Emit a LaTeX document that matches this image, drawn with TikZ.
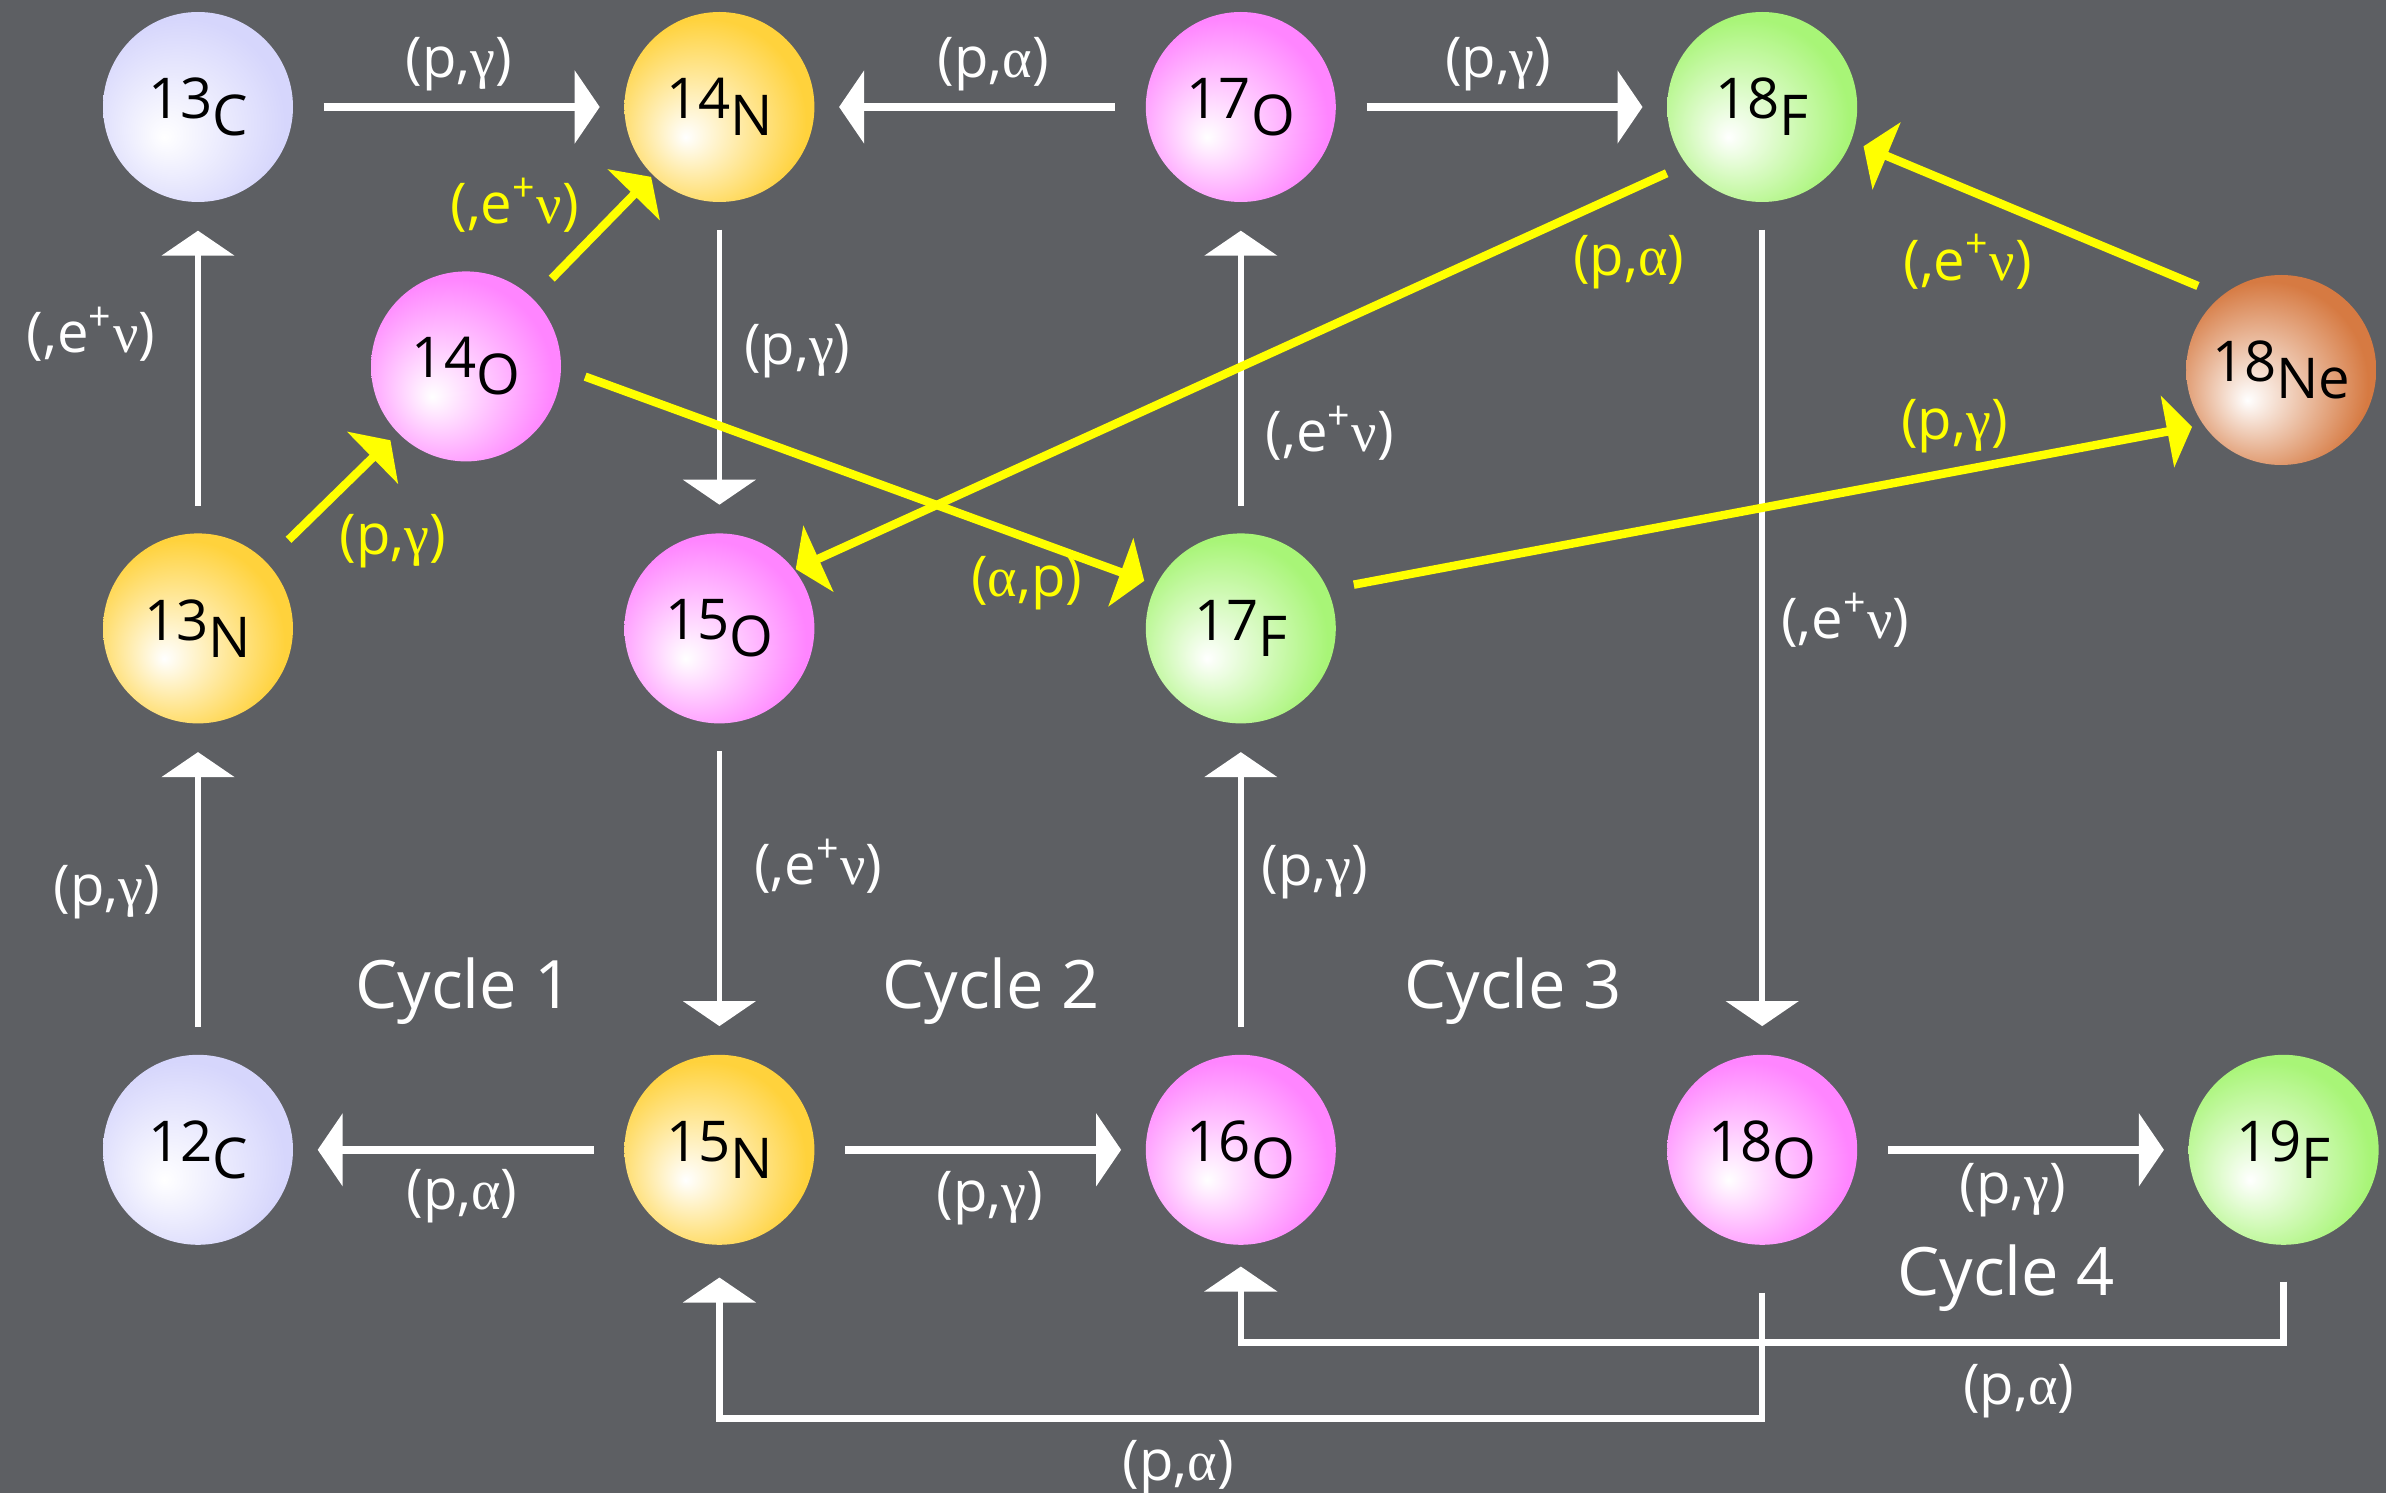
\documentclass[tikz,border=0pt]{standalone}
\usepackage{fontspec}
\setmainfont{Open Sans}
\newfontfamily\grk{Liberation Serif}
\usepackage{xcolor}
\usetikzlibrary{arrows.meta,positioning}

\definecolor{bgray}{HTML}{5D5F63}
\definecolor{cC}{HTML}{D6D6FC}
\definecolor{cN}{HTML}{FFD23C}
\definecolor{cO}{HTML}{FF85FF}
\definecolor{cF}{HTML}{A8F577}
\definecolor{cNe}{HTML}{D67A42}
\definecolor{rxn}{HTML}{FFFF00}

\pgfdeclareradialshading{ballC}{\pgfpoint{-9bp}{-8bp}}{color(0bp)=(white); color(27bp)=(cC); color(50bp)=(cC)}
\pgfdeclareradialshading{ballN}{\pgfpoint{-9bp}{-8bp}}{color(0bp)=(white); color(27bp)=(cN); color(50bp)=(cN)}
\pgfdeclareradialshading{ballO}{\pgfpoint{-9bp}{-8bp}}{color(0bp)=(white); color(27bp)=(cO); color(50bp)=(cO)}
\pgfdeclareradialshading{ballF}{\pgfpoint{-9bp}{-8bp}}{color(0bp)=(white); color(27bp)=(cF); color(50bp)=(cF)}
\pgfdeclareradialshading{ballNe}{\pgfpoint{-9bp}{-8bp}}{color(0bp)=(white); color(27bp)=(cNe); color(50bp)=(cNe)}

\begin{document}
\begin{tikzpicture}[node distance=3.3cm,
    ball/.style={circle, minimum size=1.9cm, inner sep=0pt, shade, font=\fontsize{16}{19}\selectfont},
    bflow/.style={draw=white, line width=1.8pt, -{Triangle[width=7.2mm,length=2.5mm]}},
    flow/.style={bflow, line width=2.2pt, shorten <=3mm, shorten >=2.4mm},
    vflow/.style={bflow, line width=1.6pt, shorten <=2.7mm, shorten >=2.8mm},
    yflow/.style={draw=rxn, line width=2.4pt, -{Triangle[width=7.2mm,length=2.5mm]}},
    lbl/.style={text=white, inner sep=1pt, font=\fontsize{16}{19}\selectfont},
    ylbl/.style={lbl, text=rxn},
    cyc/.style={text=white, font=\fontsize{19}{23}\selectfont}]

    \useasboundingbox (0,0) rectangle (23.86,-14.93);
    \fill[bgray] (0,0) rectangle (23.86,-14.93);

    % Row 1
    \node[ball, shading=ballC] (C13) at (1.98,-1.07) {13\raisebox{-.3em}{C}};
    \node[ball, shading=ballN, right=of C13] (N14) {14\raisebox{-.3em}{N}};
    \node[ball, shading=ballO, right=of N14] (O17) {17\raisebox{-.3em}{O}};
    \node[ball, shading=ballF, right=of O17] (F18) {18\raisebox{-.3em}{F}};

    % Row 2
    \node[ball, shading=ballN, below=of C13] (N13) {13\raisebox{-.3em}{N}};
    \node[ball, shading=ballO, right=of N13] (O15) {15\raisebox{-.3em}{O}};
    \node[ball, shading=ballF, right=of O15] (F17) {17\raisebox{-.3em}{F}};
    \node[ball, shading=ballO] (O14) at ([shift={(2.68,2.62)}]N13) {14\raisebox{-.3em}{O}};
    \node[ball, shading=ballNe] (Ne18) at ([shift={(5.19,-2.63)}]F18) {18\raisebox{-.3em}{Ne}};

    % Row 3
    \node[ball, shading=ballC, below=of N13] (C12) {12\raisebox{-.3em}{C}};
    \node[ball, shading=ballN, right=of C12] (N15) {15\raisebox{-.3em}{N}};
    \node[ball, shading=ballO, right=of N15] (O16) {16\raisebox{-.3em}{O}};
    \node[ball, shading=ballO, right=of O16] (O18) {18\raisebox{-.3em}{O}};
    \node[ball, shading=ballF, right=of O18] (F19) {19\raisebox{-.3em}{F}};

    % Cycle labels
    \node[cyc] (cyc1) at (4.64,-9.91) {Cycle 1};
    \node[cyc] (cyc2) at (9.91,-9.91) {Cycle 2};
    \node[cyc] (cyc3) at (15.13,-9.91) {Cycle 3};
    \node[cyc] (cyc4) at (20.06,-12.78) {Cycle 4};

    % Horizontal reactions
    \draw[flow] (C13) -- node[lbl, yshift=.43cm] (l1) {(p,{\grk γ})} (N14);
    \draw[flow] (O17) -- node[lbl, pos=.46, yshift=.43cm] (l2) {(p,{\grk α})} (N14);
    \draw[flow] (O17) -- node[lbl, pos=.49, yshift=.43cm] (l3) {(p,{\grk γ})} (F18);
    \draw[flow] (N15) -- node[lbl, pos=.49, yshift=-.46cm] (l11) {(p,{\grk α})} (C12);
    \draw[flow] (N15) -- node[lbl, pos=.53, yshift=-.48cm] (l12) {(p,{\grk γ})} (O16);
    \draw[flow] (O18) -- node[lbl, pos=.47, yshift=-.4cm] (l13) {(p,{\grk γ})} (F19);

    % Vertical reactions
    \draw[vflow] (N13) -- node[lbl, pos=.6, xshift=-1.07cm] (l4) {(,e\textsuperscript{+}{\grk ν})} (C13);
    \draw[vflow] (N14) -- node[lbl, pos=.45, xshift=.78cm] (l5) {(p,{\grk γ})} (O15);
    \draw[vflow] (F17) -- node[lbl, pos=.3, xshift=.89cm] (l6) {(,e\textsuperscript{+}{\grk ν})} (O17);
    \draw[vflow] (F18) -- node[lbl, pos=.49, xshift=.83cm] (l7) {(,e\textsuperscript{+}{\grk ν})} (O18);
    \draw[vflow] (C12) -- node[lbl, pos=.49, xshift=-.91cm] (l8) {(p,{\grk γ})} (N13);
    \draw[vflow] (O15) -- node[lbl, pos=.43, xshift=.99cm] (l9) {(,e\textsuperscript{+}{\grk ν})} (N15);
    \draw[vflow] (O16) -- node[lbl, pos=.55, xshift=.74cm] (l10) {(p,{\grk γ})} (F17);

    % Return branches
    \draw[bflow] ([yshift=-4.7mm]O18.south) -- ++(0,-1.26)
        -| node[lbl, pos=.28, yshift=-.49cm] (l14) {(p,{\grk α})} ([yshift=-3.2mm]N15.south);
    \draw[bflow] ([yshift=-3.6mm]F19.south) -- ++(0,-.61)
        -| node[lbl, pos=.127, yshift=-.49cm] (l15) {(p,{\grk α})} ([yshift=-2.1mm]O16.south);

    % Hot CNO (yellow)
    \draw[yflow, shorten <=3.1mm, shorten >=1mm] (N13) -- node[ylbl, xshift=.61cm, yshift=-.44cm] (y1) {(p,{\grk γ})} (O14);
    \draw[yflow, shorten <=2.7mm, shorten >=.2mm] (O14) -- node[ylbl, xshift=-.78cm, yshift=.31cm] (y2) {(,e\textsuperscript{+}{\grk ν})} (N14);
    \draw[yflow, shorten <=2.5mm, shorten >=1.2mm] (O14.-1) -- node[ylbl, pos=.8, xshift=-.1cm, yshift=-.42cm] (y3) {({\grk α},p)} (F17.153);
    \draw[yflow, shorten <=2.1mm, shorten >=.1mm] (F18.217) -- node[ylbl, pos=.064, yshift=-.72cm] (y4) {(p,{\grk α})} (O15.38);
    \draw[yflow, shorten <=2.6mm, shorten >=1.1mm] (F17.24) -- node[ylbl, pos=.716, yshift=.45cm] (y5) {(p,{\grk γ})} (Ne18.215);
    \draw[yflow, shorten <=2.5mm, shorten >=1.3mm] (Ne18.129) -- node[ylbl, pos=.686, yshift=-.72cm] (y6) {(,e\textsuperscript{+}{\grk ν})} (F18.-21);
\end{tikzpicture}
\end{document}
